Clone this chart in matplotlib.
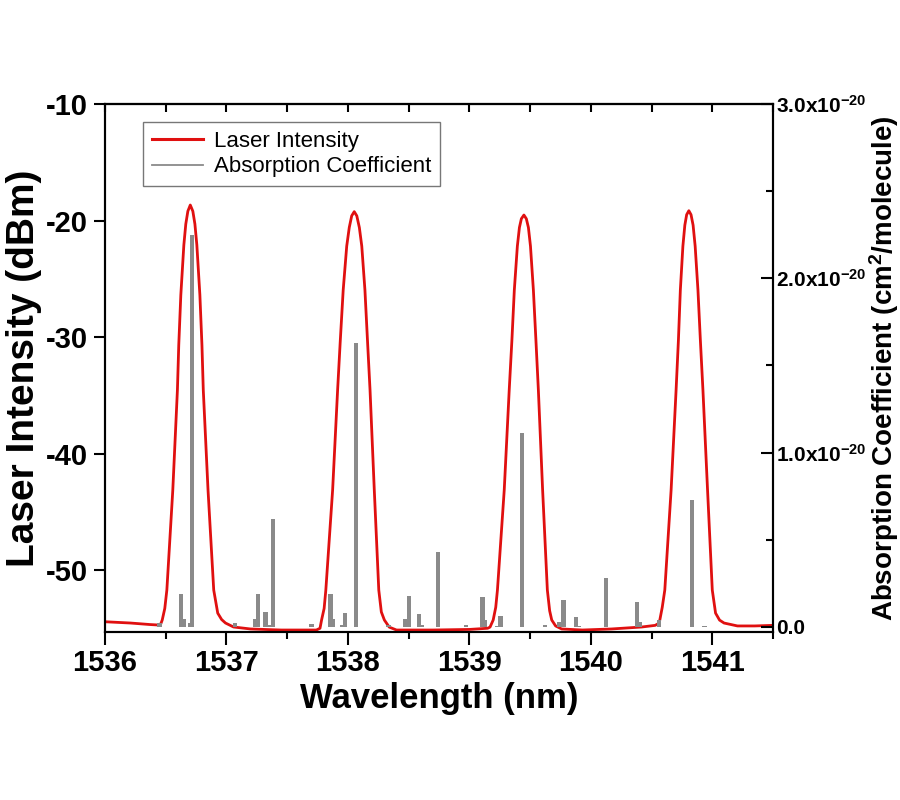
import matplotlib
matplotlib.use('Agg')
import matplotlib.pyplot as plt
from matplotlib.lines import Line2D
from matplotlib.ticker import MultipleLocator

plt.rcParams['font.family'] = ['Liberation Sans', 'DejaVu Sans']
plt.rcParams['font.weight'] = 'bold'
plt.rcParams['mathtext.default'] = 'regular'
plt.rcParams['axes.unicode_minus'] = False

# laser spectrum (nm / dBm)
wavelength = [1536.00, 1536.21, 1536.37, 1536.44, 1536.46,
              1536.471, 1536.492, 1536.509, 1536.558, 1536.596, 1536.607, 1536.624, 1536.649,
              1536.665, 1536.682, 1536.702, 1536.723, 1536.740, 1536.756, 1536.781, 1536.798,
              1536.809, 1536.848, 1536.895, 1536.928,
              1536.96, 1536.992, 1537.058, 1537.198, 1537.45, 1537.74, 1537.770,
              1537.783, 1537.804, 1537.818, 1537.874, 1537.915, 1537.936, 1537.961, 1537.990,
              1538.011, 1538.031, 1538.052, 1538.073, 1538.094, 1538.114, 1538.140, 1538.162,
              1538.182, 1538.217, 1538.254, 1538.275, 1538.300,
              1538.34, 1538.40, 1538.70, 1539.00, 1539.15, 1539.17,
              1539.196, 1539.217, 1539.231, 1539.287, 1539.328, 1539.350, 1539.370, 1539.395,
              1539.412, 1539.428, 1539.449, 1539.469, 1539.486, 1539.503, 1539.527, 1539.548,
              1539.568, 1539.603, 1539.642, 1539.661, 1539.678,
              1539.71, 1539.76, 1539.93, 1540.17, 1540.42, 1540.53, 1540.555,
              1540.568, 1540.588, 1540.609, 1540.661, 1540.702, 1540.721, 1540.737, 1540.758,
              1540.774, 1540.789, 1540.807, 1540.825, 1540.842, 1540.859, 1540.882, 1540.902,
              1540.923, 1540.961, 1541.000, 1541.027,
              1541.06, 1541.097, 1541.207, 1541.35, 1541.50]
intensity = [-54.44, -54.55, -54.68, -54.72, -54.60,
             -54.29, -53.30, -51.72, -43.13, -34.55, -30.70, -26.40, -22.10,
             -20.30, -19.20, -18.67, -19.20, -20.30, -22.10, -26.40, -30.70,
             -34.55, -43.13, -51.72, -53.70,
             -54.25, -54.55, -54.89, -55.06, -55.15, -55.15, -55.00,
             -54.29, -53.30, -51.72, -43.13, -34.55, -30.50, -25.97, -22.20,
             -20.60, -19.60, -19.24, -19.60, -20.60, -22.20, -25.97, -30.50,
             -34.55, -43.13, -51.72, -53.60, -54.29,
             -54.90, -55.15, -55.15, -55.10, -55.00, -54.90,
             -54.29, -53.20, -51.72, -43.13, -34.55, -30.30, -25.97, -22.20,
             -20.60, -19.85, -19.53, -19.85, -20.60, -22.20, -25.97, -30.30,
             -34.55, -43.13, -51.72, -53.50, -54.29,
             -54.80, -55.06, -55.15, -55.06, -54.89, -54.75, -54.60,
             -54.29, -53.20, -51.72, -43.13, -34.55, -30.30, -25.97, -22.20,
             -20.40, -19.50, -19.16, -19.50, -20.40, -22.20, -25.97, -30.30,
             -34.55, -43.13, -51.72, -53.70,
             -54.30, -54.55, -54.80, -54.80, -54.75]

# absorption lines (nm / 1e-20 cm^2 per molecule)
line_pos = [1536.449, 1536.628, 1536.647, 1536.697, 1536.716, 1537.069, 1537.234, 1537.262,
            1537.322, 1537.350, 1537.383, 1537.700, 1537.857, 1537.879, 1537.950, 1537.975,
            1538.066, 1538.333, 1538.474, 1538.504, 1538.584, 1538.612, 1538.744, 1538.971,
            1539.107, 1539.126, 1539.231, 1539.256, 1539.432, 1539.622, 1539.738, 1539.774,
            1539.876, 1539.898, 1540.126, 1540.380, 1540.402, 1540.559, 1540.835, 1540.936]
line_strength = [0.02, 0.19, 0.045, 0.02, 2.25, 0.02, 0.045, 0.19,
                 0.086, 0.01, 0.62, 0.017, 0.19, 0.045, 0.01, 0.08,
                 1.63, 0.01, 0.045, 0.18, 0.075, 0.01, 0.43, 0.01,
                 0.17, 0.04, 0.006, 0.063, 1.11, 0.01, 0.03, 0.155,
                 0.055, 0.006, 0.28, 0.145, 0.03, 0.04, 0.73, 0.006]

right_ticks = [0, 1, 2, 3]
right_labels = ['0.0', '1.0x10$^{-20}$', '2.0x10$^{-20}$', '3.0x10$^{-20}$']

fig = plt.figure(figsize=(9, 8), dpi=100)
ax = fig.add_axes([0.1167, 0.21, 0.7422, 0.66])
ax2 = ax.twinx()

ax.plot(wavelength, intensity, color='#e01010', lw=2.0)
ax2.bar(line_pos, line_strength, width=0.035, color='#8a8a8a')

ax.set_xlim(1536, 1541.5)
ax.set_ylim(-55.32, -10)
ax.xaxis.set_major_locator(MultipleLocator(1))
ax.xaxis.set_minor_locator(MultipleLocator(0.5))
ax.set_yticks([-50, -40, -30, -20, -10])
ax.tick_params(axis='x', which='major', direction='out', length=9, width=1.5, labelsize=21, pad=3)
ax.tick_params(axis='x', which='minor', direction='out', length=5, width=1.5)
ax.tick_params(axis='y', direction='out', length=8, width=1.5, labelsize=21, pad=4)

top = ax.secondary_xaxis('top')
top.xaxis.set_major_locator(MultipleLocator(1))
top.xaxis.set_minor_locator(MultipleLocator(0.5))
top.tick_params(which='both', direction='in', length=6, width=1.5, labeltop=False)

ax2.set_ylim(-0.029, 3.0)
ax2.set_yticks(right_ticks)
ax2.set_yticklabels(right_labels)
ax2.yaxis.set_minor_locator(MultipleLocator(0.5))
ax2.tick_params(axis='y', which='major', direction='in', length=9, width=1.5, labelsize=15, pad=2)
ax2.tick_params(axis='y', which='minor', direction='in', length=5, width=1.5)

for a in (ax, ax2, top):
    for s in a.spines.values():
        s.set_linewidth(1.5)

ax.set_xlabel('Wavelength (nm)', fontsize=25, fontweight='bold', labelpad=4)
ax.set_ylabel('Laser Intensity (dBm)', fontsize=28, fontweight='bold', labelpad=3)
ax2.set_ylabel('Absorption Coefficient (cm$^2$/molecule)', fontsize=20, fontweight='bold', labelpad=1)

handles = [Line2D([], [], color='#e01010', lw=2.2), Line2D([], [], color='#8a8a8a', lw=1.3)]
leg = ax2.legend(handles, ['Laser Intensity', 'Absorption Coefficient'],
                 loc='upper left', bbox_to_anchor=(0.057, 0.966), borderaxespad=0,
                 prop={'size': 16, 'weight': 'normal'}, fancybox=False,
                 edgecolor='#777777', framealpha=1, borderpad=0.4,
                 handlelength=2.3, handletextpad=0.5, labelspacing=0.2)
leg.get_frame().set_linewidth(1.0)

fig.savefig('out.png', dpi=100)
